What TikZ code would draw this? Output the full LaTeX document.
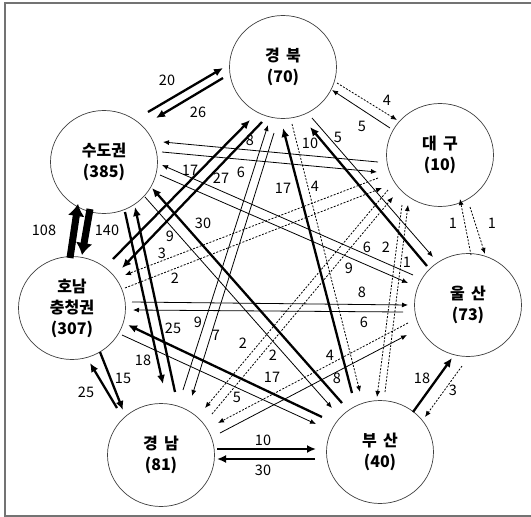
\documentclass[tikz,border=0pt]{standalone}
\usepackage{fontspec}
\setmainfont{Noto Sans CJK KR}
\usetikzlibrary{shapes.geometric,arrows.meta,calc}
\newcommand{\gap}{\hspace{0.4em}}

\begin{document}
\begin{tikzpicture}[x = 1pt, y = -1pt,
    region/.style = {ellipse, draw = black!75, line width = 0.7pt, minimum width = 107pt, minimum height = 103pt,
                     inner sep = 0pt, align = center, font = \fontsize{16}{21}\selectfont\bfseries},
    num/.style = {font = \fontsize{14.5}{15}\selectfont, inner sep = 0pt},
    fat flow/.style = {line width = 7pt, -{Latex[length = 12pt, width = 17pt]}},
    bold flow/.style = {line width = 2.3pt, -{Latex[length = 9pt, width = 8pt]}},
    thin flow/.style = {line width = 0.8pt, -{Latex[length = 6pt, width = 5pt]}},
    dash flow/.style = {thin flow, dash pattern = on 2pt off 1.5pt}]
    \useasboundingbox (0,0) rectangle (531,517);
    \draw[black!55, line width = 1.2pt] (531,3) -- (5,3) -- (5,516) -- (531,516);

    \node [region] (S) at (104,162) {수도권\\(385)};
    \node [region] (G) at (283,67) {경\gap 북\\(70)};
    \node [region] (D) at (440,155) {대\gap 구\\(10)};
    \node [region] (U) at (468,305) {울\gap 산\\(73)};
    \node [region] (B) at (380,452) {부\gap 산\\(40)};
    \node [region] (N) at (161,455) {경\gap 남\\(81)};
    \node [region] (H) at (72,308) {호남\\충청권\\(307)};

    % neighbours on the ring
    \draw[bold flow] ($(S)+(44,-50)$) -- ($(G)+(-60,1)$);
    \draw[bold flow] ($(G)+(-60,11)$) -- ($(S)+(52,-44)$);
    \draw[fat flow] ($(H)+(-2,-50)$) -- ($(S)+(-26,42)$);
    \draw[fat flow] ($(S)+(-14,47)$) -- ($(H)+(10,-53)$);
    \draw[dash flow] ($(G)+(54,16)$) -- ($(D)+(-43,-35)$);
    \draw[thin flow] ($(D)+(-50,-27)$) -- ($(G)+(49,23)$);
    \draw[dash flow] ($(U)+(3,-50)$) -- ($(D)+(20,44)$);
    \draw[dash flow] ($(D)+(30,52)$) -- ($(U)+(17,-51)$);
    \draw[bold flow] ($(B)+(33,-40)$) -- ($(U)+(-16,53)$);
    \draw[dash flow] ($(U)+(-6,61)$) -- ($(B)+(45,-35)$);
    \draw[bold flow] ($(N)+(56,-6)$) -- ($(B)+(-64,-3)$);
    \draw[bold flow] ($(B)+(-65,7)$) -- ($(N)+(56,4)$);
    \draw[bold flow] ($(N)+(-44,-47)$) -- ($(H)+(18,55)$);
    \draw[bold flow] ($(H)+(28,44)$) -- ($(N)+(-38,-45)$);

    % across the ring
    \draw[bold flow] ($(S)+(21,50)$) -- ($(N)+(2,-71)$);
    \draw[bold flow] ($(N)+(14,-63)$) -- ($(S)+(31,45)$);
    \draw[bold flow] ($(B)+(-28,-59)$) -- ($(G)+(0,61)$);
    \draw[dash flow] ($(G)+(9,57)$) -- ($(B)+(-20,-60)$);
    \draw[bold flow] ($(U)+(-41,-39)$) -- ($(G)+(27,60)$);
    \draw[thin flow] ($(G)+(29,51)$) -- ($(U)+(-35,-48)$);
    \draw[thin flow] ($(N)+(22,-65)$) -- ($(G)+(-15,58)$);
    \draw[thin flow] ($(G)+(-9,66)$) -- ($(N)+(31,-59)$);
    \draw[bold flow] ($(B)+(-38,-49)$) -- ($(S)+(48,26)$);
    \draw[thin flow] ($(S)+(41,35)$) -- ($(B)+(-48,-44)$);
    \draw[dash flow] ($(D)+(-62,23)$) -- ($(H)+(53,-33)$);
    \draw[dash flow] ($(H)+(53,-20)$) -- ($(D)+(-58,33)$);
    \draw[dash flow] ($(N)+(51,-41)$) -- ($(D)+(-47,42)$);
    \draw[dash flow] ($(D)+(-52,35)$) -- ($(N)+(44,-47)$);
    \draw[dash flow] ($(U)+(-60,18)$) -- ($(N)+(57,-32)$);
    \draw[thin flow] ($(N)+(59,-22)$) -- ($(U)+(-61,30)$);
    \draw[thin flow] ($(H)+(60,-6)$) -- ($(U)+(-60,0)$);
    \draw[thin flow] ($(U)+(-65,7)$) -- ($(H)+(61,2)$);
    \draw[bold flow] ($(B)+(-58,-35)$) -- ($(H)+(56,17)$);
    \draw[thin flow] ($(H)+(50,27)$) -- ($(B)+(-64,-28)$);
    \draw[thin flow] ($(D)+(-62,7)$) -- ($(S)+(59,-20)$);
    \draw[thin flow] ($(S)+(58,-10)$) -- ($(D)+(-63,17)$);
    \draw[thin flow] ($(U)+(-55,-30)$) -- ($(S)+(58,3)$);
    \draw[thin flow] ($(S)+(56,13)$) -- ($(U)+(-60,-22)$);
    \draw[dash flow] ($(D)+(-38,50)$) -- ($(B)+(-3,-55)$);
    \draw[dash flow] ($(B)+(5,-60)$) -- ($(D)+(-32,50)$);
    \draw[bold flow] ($(H)+(41,-49)$) -- ($(G)+(-33,53)$);
    \draw[bold flow] ($(G)+(-21,55)$) -- ($(H)+(50,-40)$);

    \foreach \v/\x/\y [count = \i] in {20/167/80, 26/198/112, 108/44/230, 140/107/230, 4/387/100, 5/362/126,
        1/453/223, 1/492/223, 18/422/378, 3/453/390, 10/263/440, 30/263/470, 25/86/392, 15/123/378,
        18/143/360, 25/173/328, 17/283/188, 4/315/186, 10/310/143, 5/338/137, 9/198/322, 7/216/335,
        30/203/223, 9/170/236, 3/162/253, 2/175/278, 2/243/343, 2/273/355, 4/330/355, 8/337/378,
        8/362/292, 6/364/322, 17/272/377, 5/237/397, 8/250/140, 6/241/172, 6/367/247, 9/349/268,
        2/386/247, 1/407/262, 17/190/170, 27/221/178}
        \node [num] (v\i) at (\x,\y) {\v};
\end{tikzpicture}
\end{document}
